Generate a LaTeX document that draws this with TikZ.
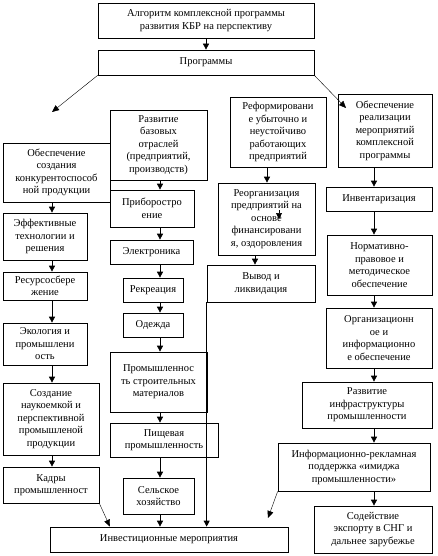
\documentclass[tikz,border=0pt]{standalone}
\usepackage{fontspec}
\setmainfont{Liberation Serif}
\usetikzlibrary{arrows.meta}

\begin{document}
\begin{tikzpicture}[x=1pt,y=-1pt,
    box/.style 2 args={rectangle,draw,line width=0.7pt,fill=white,inner sep=1pt,align=center,
        minimum width=#1,minimum height=#2,font=\fontsize{10.5}{12.5}\selectfont},
    arr/.style={-{Triangle[length=6pt,width=6pt]},line width=0.7pt},
    slant/.style={-{Triangle[length=7pt,width=6pt]},line width=0.4pt}]
\useasboundingbox (0,0) rectangle (438,556);
\coordinate (lx) at (52,0);
\coordinate (mx) at (160,0);
\coordinate (rx) at (374,0);
\coordinate (vx) at (255,0);
\coordinate (fx) at (267,0);

\node (alg) at (206,20.5) [box={216pt}{35pt}] {Алгоритм комплексной программы\\развития КБР на перспективу};
\node (prog) at (206,62.5) [box={216pt}{25pt}] {Программы};

\node (obesp) at (56.5,172.5) [box={107pt}{59pt}] {Обеспечение\\создания\\конкурентоспособ\\ной продукции};
\node (eff) at (45,236.5) [box={84pt}{47pt}] {Эффективные\\технологии и\\решения};
\node (res) at (45,286) [box={84pt}{28pt}] {Ресурсосбере\\жение};
\node (eko) at (45,344) [box={84pt}{42pt}] {Экология и\\промышлени\\ость};
\node (sozd) at (51,419) [box={96pt}{72pt}] {Создание\\наукоемкой и\\перспективной\\промышленой\\продукции};
\node (kadry) at (51,485) [box={96pt}{36pt}] {Кадры\\промышленност};

\node (razv) at (158.5,145) [box={97pt}{70pt}] {Развитие\\базовых\\отраслей\\(предприятий,\\производств)};
\node (prib) at (152,208.5) [box={84pt}{37pt}] {Приборостро\\ение};
\node (elek) at (151.5,252) [box={83pt}{24pt}] {Электроника};
\node (rekr) at (153,290) [box={60pt}{24pt}] {Рекреация};
\node (odezh) at (153,325) [box={60pt}{24pt}] {Одежда};
\node (stroy) at (158.5,382) [box={97pt}{60pt}] {Промышленнос\\ть строительных\\материалов};
\node (pishch) at (164,440) [box={108pt}{34pt}] {Пищевая\\промышленность};
\node (selsk) at (158.5,496) [box={71pt}{36pt}] {Сельское\\хозяйство};
\node (invest) at (169,539.5) [box={238pt}{25pt}] {Инвестиционные мероприятия};

\node (reform) at (278,132) [box={96pt}{70pt}] {Реформировани\\е убыточно и\\неустойчиво\\работающих\\предприятий};
\node (reorg) at (266.5,219) [box={97pt}{72pt}] {Реорганизация\\предприятий на\\основе\\финансировани\\я, оздоровления};
\node (vyvod) at (261,283.5) [box={108pt}{37pt}] {Вывод и\\ликвидация};

\node (realiz) at (385,130.5) [box={94pt}{73pt}] {Обеспечение\\реализации\\мероприятий\\комплексной\\программы};
\node (invent) at (379,199) [box={106pt}{24pt}] {Инвентаризация};
\node (norm) at (379.5,265) [box={105pt}{60pt}] {Нормативно-\\правовое и\\методическое\\обеспечение};
\node (org) at (379,338) [box={106pt}{60pt}] {Организационн\\ое и\\информационно\\е обеспечение};
\node (infra) at (367,405) [box={130pt}{46pt}] {Развитие\\инфраструктуры\\промышленности};
\node (imidzh) at (354,467) [box={152pt}{48pt}] {Информационно-рекламная\\поддержка «имиджа\\промышленности»};
\node (eksport) at (373,529.5) [box={118pt}{47pt}] {Содействие\\экспорту в СНГ и\\дальнее зарубежье};

\coordinate (lend) at (52,112);
\coordinate (rend) at (346,108);
\coordinate (iend) at (268,518);
\coordinate (stub) at (279,210);

\draw[arr] (alg.south) -- (prog.north);
\draw[slant] (prog.south west) -- (lend);
\draw[slant] (prog.south east) -- (rend);

\draw[arr] (obesp.south -| lx) -- (eff.north -| lx);
\draw[arr] (eff.south -| lx) -- (res.north -| lx);
\draw[arr] (res.south -| lx) -- (eko.north -| lx);
\draw[arr] (eko.south -| lx) -- (sozd.north -| lx);
\draw[arr] (sozd.south -| lx) -- (kadry.north -| lx);
\draw[slant] (kadry.south east) -- (invest.north -| 110,0);

\draw[arr] (razv.south -| mx) -- (prib.north -| mx);
\draw[arr] (prib.south -| mx) -- (elek.north -| mx);
\draw[arr] (elek.south -| mx) -- (rekr.north -| mx);
\draw[arr] (rekr.south -| mx) -- (odezh.north -| mx);
\draw[arr] (odezh.south -| mx) -- (stroy.north -| mx);
\draw[arr] (stroy.south -| mx) -- (pishch.north -| mx);
\draw[arr] (pishch.south -| mx) -- (selsk.north -| mx);
\draw[arr] (selsk.south -| mx) -- (invest.north -| mx);

\draw[arr] (reform.south -| fx) -- (reorg.north -| fx);
\draw[arr] (stub) -- (stub |- reorg.center);
\draw[arr] (reorg.south -| vx) -- (vyvod.north -| vx);
\draw[arr] (vyvod.south west) -- (vyvod.south west |- invest.north);

\draw[arr] (realiz.south -| rx) -- (invent.north -| rx);
\draw[arr] (invent.south -| rx) -- (norm.north -| rx);
\draw[arr] (norm.south -| rx) -- (org.north -| rx);
\draw[arr] (org.south -| rx) -- (infra.north -| rx);
\draw[arr] (infra.south -| rx) -- (imidzh.north -| rx);
\draw[arr] (imidzh.south -| rx) -- (eksport.north -| rx);
\draw[slant] (imidzh.south west) -- (iend);
\end{tikzpicture}
\end{document}
